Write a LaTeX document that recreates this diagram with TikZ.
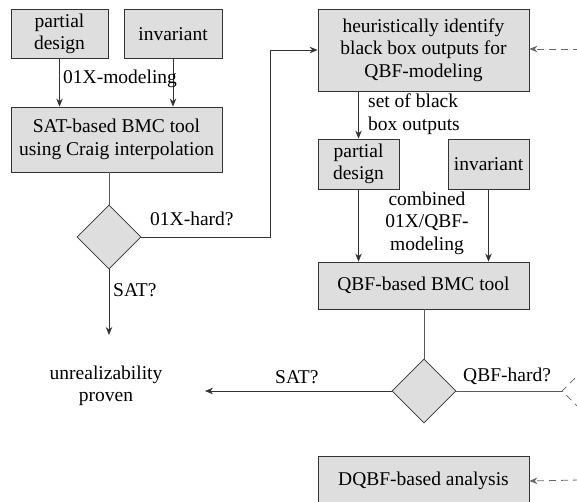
\documentclass[tikz,border=0pt]{standalone}
\usepackage{fontspec}
\setmainfont{Liberation Serif}
\usetikzlibrary{arrows.meta,shapes.geometric}
\begin{document}
\begin{tikzpicture}[x=1pt,y=-1pt,
  every node/.style={font=\fontsize{19.5}{22.5}\selectfont},
  box/.style={draw=black!80,fill=black!13,line width=0.8pt,align=center,inner sep=0pt},
  dia/.style={diamond,draw=black!80,fill=black!13,line width=0.8pt,minimum width=64pt,minimum height=64pt,inner sep=0pt},
  ddia/.style={diamond,draw=black!60,dashed,dash pattern=on 7pt off 5pt,line width=0.8pt,minimum width=64pt,minimum height=64pt,inner sep=0pt},
  arr/.style={draw=black!80,line width=0.8pt,-{Stealth[length=8pt,width=6.5pt]}},
  ln/.style={draw=black!65,line width=0.8pt},
  darr/.style={draw=black!60,line width=0.8pt,dash pattern=on 7pt off 5pt,-{Stealth[length=8pt,width=6.5pt]}},
  lab/.style={align=left,inner sep=0pt,anchor=west}]
\useasboundingbox (0,0) rectangle (577,502);
\clip (0,0) rectangle (577,502);
% left column
\node[box,minimum width=97pt,minimum height=49pt] (pd1) at (59.5,34) {partial\\design};
\node[box,minimum width=98pt,minimum height=49pt] (inv1) at (173,34) {invariant};
\node[box,minimum width=211pt,minimum height=65pt] (sat) at (116.5,139.5) {SAT-based BMC tool\\using Craig interpolation};
\node[dia] (d1) at (109,237) {};
\node[align=center,inner sep=0pt] (unr) at (106,386) {unrealizability\\proven};
\coordinate (satend) at (109,335);
% right column
\node[box,minimum width=211pt,minimum height=82pt] (heu) at (423.5,50) {heuristically identify\\black box outputs for\\QBF-modeling};
\node[box,minimum width=81pt,minimum height=50pt] (pd2) at (358.5,164) {partial\\design};
\node[box,minimum width=81pt,minimum height=50pt] (inv2) at (488.5,164) {invariant};
\node[box,minimum width=211pt,minimum height=47pt] (qbf) at (423.5,285.5) {QBF-based BMC tool};
\node[dia] (d2) at (424,391) {};
\node[ddia] (d3) at (594,391) {};
\node[box,minimum width=211pt,minimum height=50pt] (dq) at (423.5,481) {DQBF-based analysis};
\coordinate (satend2) at (205,391);
\coordinate (in1) at (580,49);
\coordinate (in2) at (580,480);
\coordinate (bend) at (270,237);
% connectors
\draw[arr] (pd1.south) -- (pd1.south |- sat.north);
\draw[arr] (inv1.south) -- (inv1.south |- sat.north);
\node[lab] (l1) at (63,79) {01X-modeling};
\draw[ln] (sat.south -| d1.north) -- (d1.north);
\draw[arr] (d1.east) -- (bend) |- (heu.west);
\node[lab] (l2) at (150,219) {01X-hard?};
\draw[arr] (d1.south) -- (satend);
\node[lab] (l3) at (113,290) {SAT?};
\draw[darr] (in1) -- (heu.east |- in1);
\draw[arr] (heu.south -| pd2.north) -- (pd2.north);
\node[lab] (l4) at (368,114) {set of black\\box outputs};
\draw[arr] (pd2.south) -- (pd2.south |- qbf.north);
\draw[arr] (inv2.south) -- (inv2.south |- qbf.north);
\node[align=center,inner sep=0pt] (l5) at (427,223) {combined\\01X/QBF-\\modeling};
\draw[ln] (qbf.south -| d2.north) -- (d2.north);
\draw[arr] (d2.west) -- (satend2);
\node[lab] (l6) at (275,377) {SAT?};
\draw[ln] (d2.east) -- (d3.west);
\node[lab] (l7) at (463,376) {QBF-hard?};
\draw[darr] (in2) -- (dq.east);
\end{tikzpicture}
\end{document}
